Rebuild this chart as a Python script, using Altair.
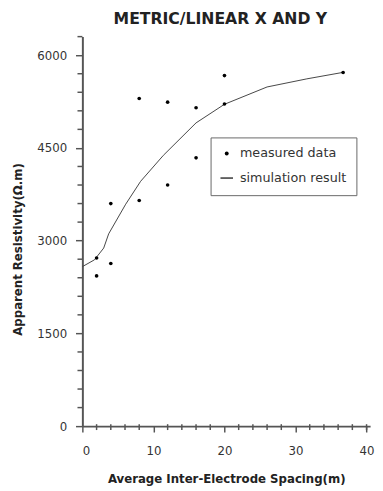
import altair as alt
import pandas as pd

# measured data
meas_x = [2, 2, 4, 4, 8, 8, 12, 12, 16, 16, 20, 20, 36.7]
meas_y = [2720, 2430, 3600, 2630, 3650, 5300, 5240, 3900, 5150, 4340, 5670, 5210, 5720]
# simulation curve
sim_x = [0, 1.7, 3, 3.7, 6.1, 8.2, 11.4, 16, 20, 26, 31.6, 36.6]
sim_y = [2580, 2690, 2880, 3110, 3590, 3960, 4380, 4905, 5206, 5486, 5617, 5720]

x_major = [0, 10, 20, 30, 40]
x_minor = [2, 4, 6, 8, 12, 14, 16, 18, 22, 24, 26, 28, 32, 34, 36, 38, 40]
y_major = [0, 1500, 3000, 4500, 6000]
y_minor = [300, 600, 900, 1200, 1800, 2100, 2400, 2700, 3300, 3600, 3900, 4200,
           4800, 5100, 5400, 5700, 6300]

series = ["measured data", "simulation result"]

meas = pd.DataFrame({"x": meas_x, "y": meas_y, "series": series[0]})
sim = pd.DataFrame({"x": sim_x, "y": sim_y, "series": series[1]})
xm = pd.DataFrame({"mx": x_minor})
ym = pd.DataFrame({"my": y_minor})

FONT = "DejaVu Sans"
W, H = 294, 398
xs = alt.Scale(domain=[0, 40.5], nice=False, zero=False)
ys = alt.Scale(domain=[0, 6300], nice=False, zero=False)

axis_common = dict(domainColor="#555", domainWidth=2, tickColor="#555", tickWidth=1.5,
                   labelFont=FONT, labelFontSize=12, labelColor="#333", grid=False,
                   format="d",
                   titleFont=FONT, titleFontSize=12, titleFontWeight="bold", titleColor="#222")

# minor ticks along the axes (drawn first)
xminor = alt.Chart(xm).mark_rule(color="#555", strokeWidth=1.5).encode(
    x=alt.X("mx:Q", scale=xs, axis=None),
    y=alt.value(H - 2),
    y2=alt.value(H + 4),
)

yminor = alt.Chart(ym).mark_rule(color="#555", strokeWidth=1.5).encode(
    y=alt.Y("my:Q", scale=ys, axis=None),
    x=alt.value(-5),
    x2=alt.value(0),
)

line = alt.Chart(sim).mark_line(color="#444", strokeWidth=1).encode(
    x=alt.X("x:Q", scale=xs, axis=alt.Axis(
        values=x_major, orient="bottom", tickSize=6,
        labelPadding=14, title="Average Inter-Electrode Spacing(m)", titlePadding=18,
        **axis_common)),
    y=alt.Y("y:Q", scale=ys, axis=alt.Axis(
        values=y_major, orient="left", tickSize=7,
        labelPadding=9, title="Apparent Resistivity(Ω.m)", titleX=-59.5, titleY=217,
        **axis_common)),
)

points = alt.Chart(meas).mark_point(filled=True, color="black", size=14, opacity=1).encode(
    x=alt.X("x:Q", scale=xs, axis=None),
    y=alt.Y("y:Q", scale=ys, axis=None),
    shape=alt.Shape("series:N",
                    scale=alt.Scale(domain=series,
                                    range=["circle", "M-3.2,-0.3H3.2V0.3H-3.2Z"]),
                    legend=alt.Legend(title=None, orient="none", legendX=131, legendY=103,
                                      strokeColor="#666", fillColor="white", padding=10,
                                      labelFont=FONT, labelFontSize=13, labelColor="#333",
                                      symbolSize=16, symbolFillColor="#222",
                                      symbolStrokeWidth=0, labelOffset=7,
                                      rowPadding=11)),
)

chart = alt.layer(xminor, yminor, line, points).resolve_axis(
    x="independent", y="independent"
).properties(
    width=W, height=H,
    autosize=alt.AutoSizeParams(type="none"),
    padding={"left": 76, "top": 24, "right": 5, "bottom": 60},
    title=alt.Title("METRIC/LINEAR X AND Y", font=FONT, fontSize=16, fontWeight="bold",
                    color="#222", anchor="middle", dx=-6, offset=9, frame="group"),
).configure_view(stroke=None)

chart.save("out.html", embed_options={"renderer": "svg", "actions": False})
